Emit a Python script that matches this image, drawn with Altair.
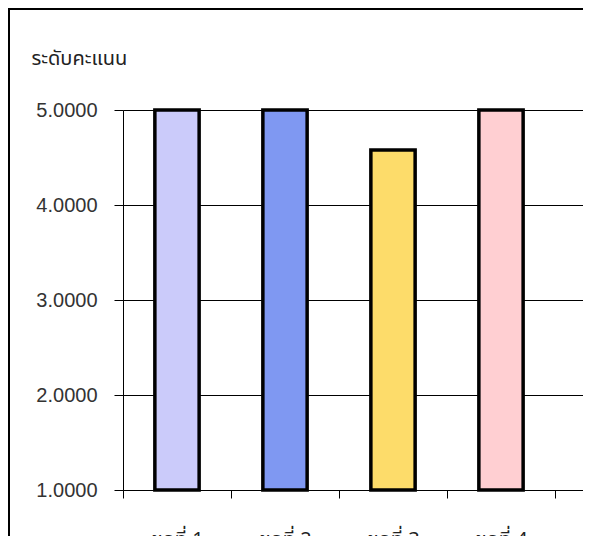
import altair as alt
import pandas as pd

categories = ["ชุดที่ 1", "ชุดที่ 2", "ชุดที่ 3", "ชุดที่ 4", "ชุดที่ 5"]
values = [5.0, 5.0, 4.58, 5.0, 4.97]
colors = ["#cbcbfa", "#7f98f2", "#fddc6a", "#ffcfd2", "#e6c3ea"]
y_ticks = [1, 2, 3, 4, 5]

df = pd.DataFrame({"cat": categories, "value": values, "color": colors})

FONT = "Noto Sans Thai, Liberation Sans, sans-serif"
NUM_FONT = "Liberation Sans, Arial, sans-serif"

bars = alt.Chart(df).mark_bar(
    stroke="black", strokeWidth=3.5, width=alt.RelativeBandSize(band=0.41)
).encode(
    x=alt.X("cat:N", sort=categories, title=None,
            scale=alt.Scale(paddingInner=0, paddingOuter=0, range=[0, 540]),
            axis=alt.Axis(labelAngle=0, tickBand="extent", tickSize=8,
                          tickColor="black", domainColor="black",
                          labelPadding=31, labelFontSize=20, labelFont=FONT,
                          labelColor="#222", grid=False)),
    y=alt.Y("value:Q", title="ระดับคะแนน",
            scale=alt.Scale(domain=[1, 5], nice=False, zero=False),
            axis=alt.Axis(values=y_ticks, format=".4f", tickSize=9,
                          tickColor="black", domainColor="black",
                          gridColor="black", gridOpacity=1, gridWidth=1,
                          labelPadding=17, labelFontSize=20, labelFont=NUM_FONT,
                          labelColor="#333",
                          titleAngle=0, titleAlign="left", titleBaseline="alphabetic",
                          titleX=-92, titleY=-46, titleFontSize=20,
                          titleFontWeight="normal", titleFont=FONT, titleColor="#222")),
    y2=alt.datum(1),
    color=alt.Color("color:N", scale=None),
)

border = alt.Chart(alt.Data(values=[{}])).mark_rect(
    fill=None, stroke="black", strokeWidth=2
).encode(
    x=alt.value(-114), x2=alt.value(700),
    y=alt.value(-101), y2=alt.value(520),
)

chart = alt.layer(border, bars).properties(
    width=460, height=380,
    autosize=alt.AutoSizeParams(type="none"),
    padding={"left": 115, "top": 102, "right": 0, "bottom": 60},
).configure_view(stroke=None).configure(background="white")

chart.save("out.html", embed_options={"renderer": "svg", "actions": False})
